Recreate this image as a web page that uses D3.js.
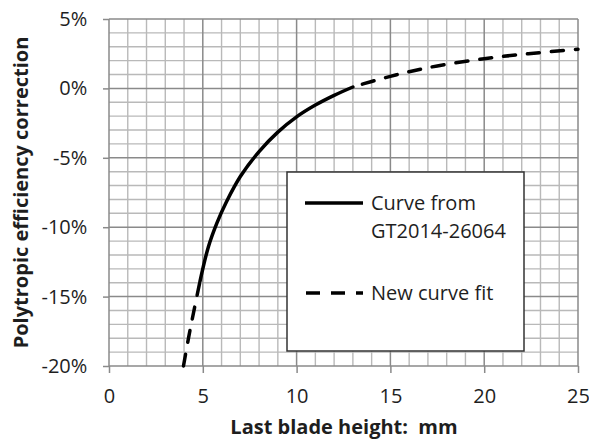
<!DOCTYPE html>
<html>
<head>
<meta charset="utf-8">
<script src="https://cdn.jsdelivr.net/npm/d3@7"></script>
<style>
  html, body { margin: 0; padding: 0; background: #fff; }
  svg { display: block; }
  text { font-family: "Open Sans", sans-serif; fill: #1e1e1e; }
</style>
</head>
<body>
<svg id="chart" width="589" height="441"></svg>
<script>
// ---- Data ----
const xTicks = [0, 5, 10, 15, 20, 25];
const yTicks = [5, 0, -5, -10, -15, -20];
const xMinor = d3.range(0, 26, 1);
const yMinor = d3.range(-20, 6, 1);

// Curve from GT2014-26064 (solid)
const solidX = [4.85, 5.3, 5.75, 6.25, 7.0, 8.0, 9.0, 10.0, 11.0, 12.0, 13.0];
const solidY = [-13.9, -11.4, -9.7, -8.2, -6.35, -4.55, -3.15, -2.05, -1.2, -0.5, 0.1];

// New curve fit (dashed) – low and high extensions
const dashLowX = [3.97, 4.25, 4.5, 4.85];
const dashLowY = [-20, -17.9, -16.2, -13.9];
const dashHighX = [13.0, 14.0, 15.0, 16.0, 17.5, 20.0, 22.5, 25.0];
const dashHighY = [0.1, 0.5, 0.87, 1.2, 1.62, 2.14, 2.52, 2.82];

const legendLabels = [["Curve from", "GT2014-26064"], ["New curve fit"]];

// ---- Layout ----
const svg = d3.select("#chart");
const x = d3.scaleLinear().domain([0, 25]).range([109, 578]);
const y = d3.scaleLinear().domain([-20, 5]).range([366, 19]);

// Grid
const grid = svg.append("g");
grid.selectAll("line.vmin").data(xMinor.filter(d => d % 5 !== 0)).enter().append("line")
  .attr("x1", d => x(d)).attr("x2", d => x(d)).attr("y1", y(5)).attr("y2", y(-20))
  .attr("stroke", "#b9b9b9").attr("stroke-width", 1.4);
grid.selectAll("line.hmin").data(yMinor.filter(d => d % 5 !== 0)).enter().append("line")
  .attr("y1", d => y(d)).attr("y2", d => y(d)).attr("x1", x(0)).attr("x2", x(25))
  .attr("stroke", "#b9b9b9").attr("stroke-width", 1.4);
grid.selectAll("line.vmaj").data(xTicks).enter().append("line")
  .attr("x1", d => x(d)).attr("x2", d => x(d)).attr("y1", y(5)).attr("y2", y(-20))
  .attr("stroke", "#8a8a8a").attr("stroke-width", 1.5);
grid.selectAll("line.hmaj").data(yTicks).enter().append("line")
  .attr("y1", d => y(d)).attr("y2", d => y(d)).attr("x1", x(0)).attr("x2", x(25))
  .attr("stroke", "#8a8a8a").attr("stroke-width", 1.5);

// Axes
const xAxis = d3.axisBottom(x).tickValues(xTicks).tickSize(7).tickPadding(15.8)
  .tickFormat(d => String(d));
const gx = svg.append("g").attr("transform", `translate(0,${y(-20)})`).call(xAxis);
const yAxis = d3.axisLeft(y).tickValues(yTicks).tickSize(6).tickPadding(15.7)
  .tickFormat(d => String(d) + "%");
const gy = svg.append("g").attr("transform", `translate(${x(0)},0)`).call(yAxis);
[gx, gy].forEach(g => {
  g.select(".domain").remove();
  g.selectAll(".tick line").attr("stroke", "#8a8a8a").attr("stroke-width", 1.5);
  g.selectAll(".tick text").attr("font-family", "Open Sans").attr("font-size", 20).attr("fill", "#1e1e1e");
});

// Curves
const line = d3.line().x(d => x(d[0])).y(d => y(d[1])).curve(d3.curveCatmullRom.alpha(0.5));
const zip = (a, b) => a.map((v, i) => [v, b[i]]);

svg.append("path").datum(zip(dashLowX, dashLowY)).attr("d", line)
  .attr("fill", "none").attr("stroke", "#000").attr("stroke-width", 3.5)
  .attr("stroke-dasharray", "12 12").attr("stroke-linecap", "round");
svg.append("path").datum(zip(dashHighX, dashHighY)).attr("d", line)
  .attr("fill", "none").attr("stroke", "#000").attr("stroke-width", 3.5)
  .attr("stroke-dasharray", "12 12").attr("stroke-dashoffset", -10).attr("stroke-linecap", "round");
svg.append("path").datum(zip(solidX, solidY)).attr("d", line)
  .attr("fill", "none").attr("stroke", "#000").attr("stroke-width", 3.5)
  .attr("stroke-linecap", "round");

// Legend
const lg = svg.append("g");
lg.append("rect").attr("x", 287).attr("y", 172).attr("width", 237).attr("height", 179)
  .attr("fill", "#fff").attr("stroke", "#333").attr("stroke-width", 1.5);
lg.append("line").attr("x1", 305).attr("x2", 363).attr("y1", 203).attr("y2", 203)
  .attr("stroke", "#000").attr("stroke-width", 3.5);
lg.append("line").attr("x1", 306).attr("x2", 363).attr("y1", 293).attr("y2", 293)
  .attr("stroke", "#000").attr("stroke-width", 3.5)
  .attr("stroke-dasharray", "14 11");
const t1 = lg.append("text").attr("x", 371).attr("y", 210).attr("font-size", 20);
t1.append("tspan").attr("x", 371).attr("y", 210).text(legendLabels[0][0]);
t1.append("tspan").attr("x", 371).attr("y", 238).text(legendLabels[0][1]);
lg.append("text").attr("x", 371).attr("y", 300).attr("font-size", 20).text(legendLabels[1][0]);

// Axis titles
svg.append("text").attr("x", 344).attr("y", 434).attr("text-anchor", "middle")
  .attr("font-size", 20).attr("font-weight", "bold").text("Last blade height:\u00a0\u00a0mm");
svg.append("text").attr("transform", `translate(27.5,${(y(5) + y(-20)) / 2}) rotate(-90)`)
  .attr("text-anchor", "middle").attr("font-size", 20).attr("font-weight", "bold")
  .text("Polytropic efficiency correction");
</script>
</body>
</html>
